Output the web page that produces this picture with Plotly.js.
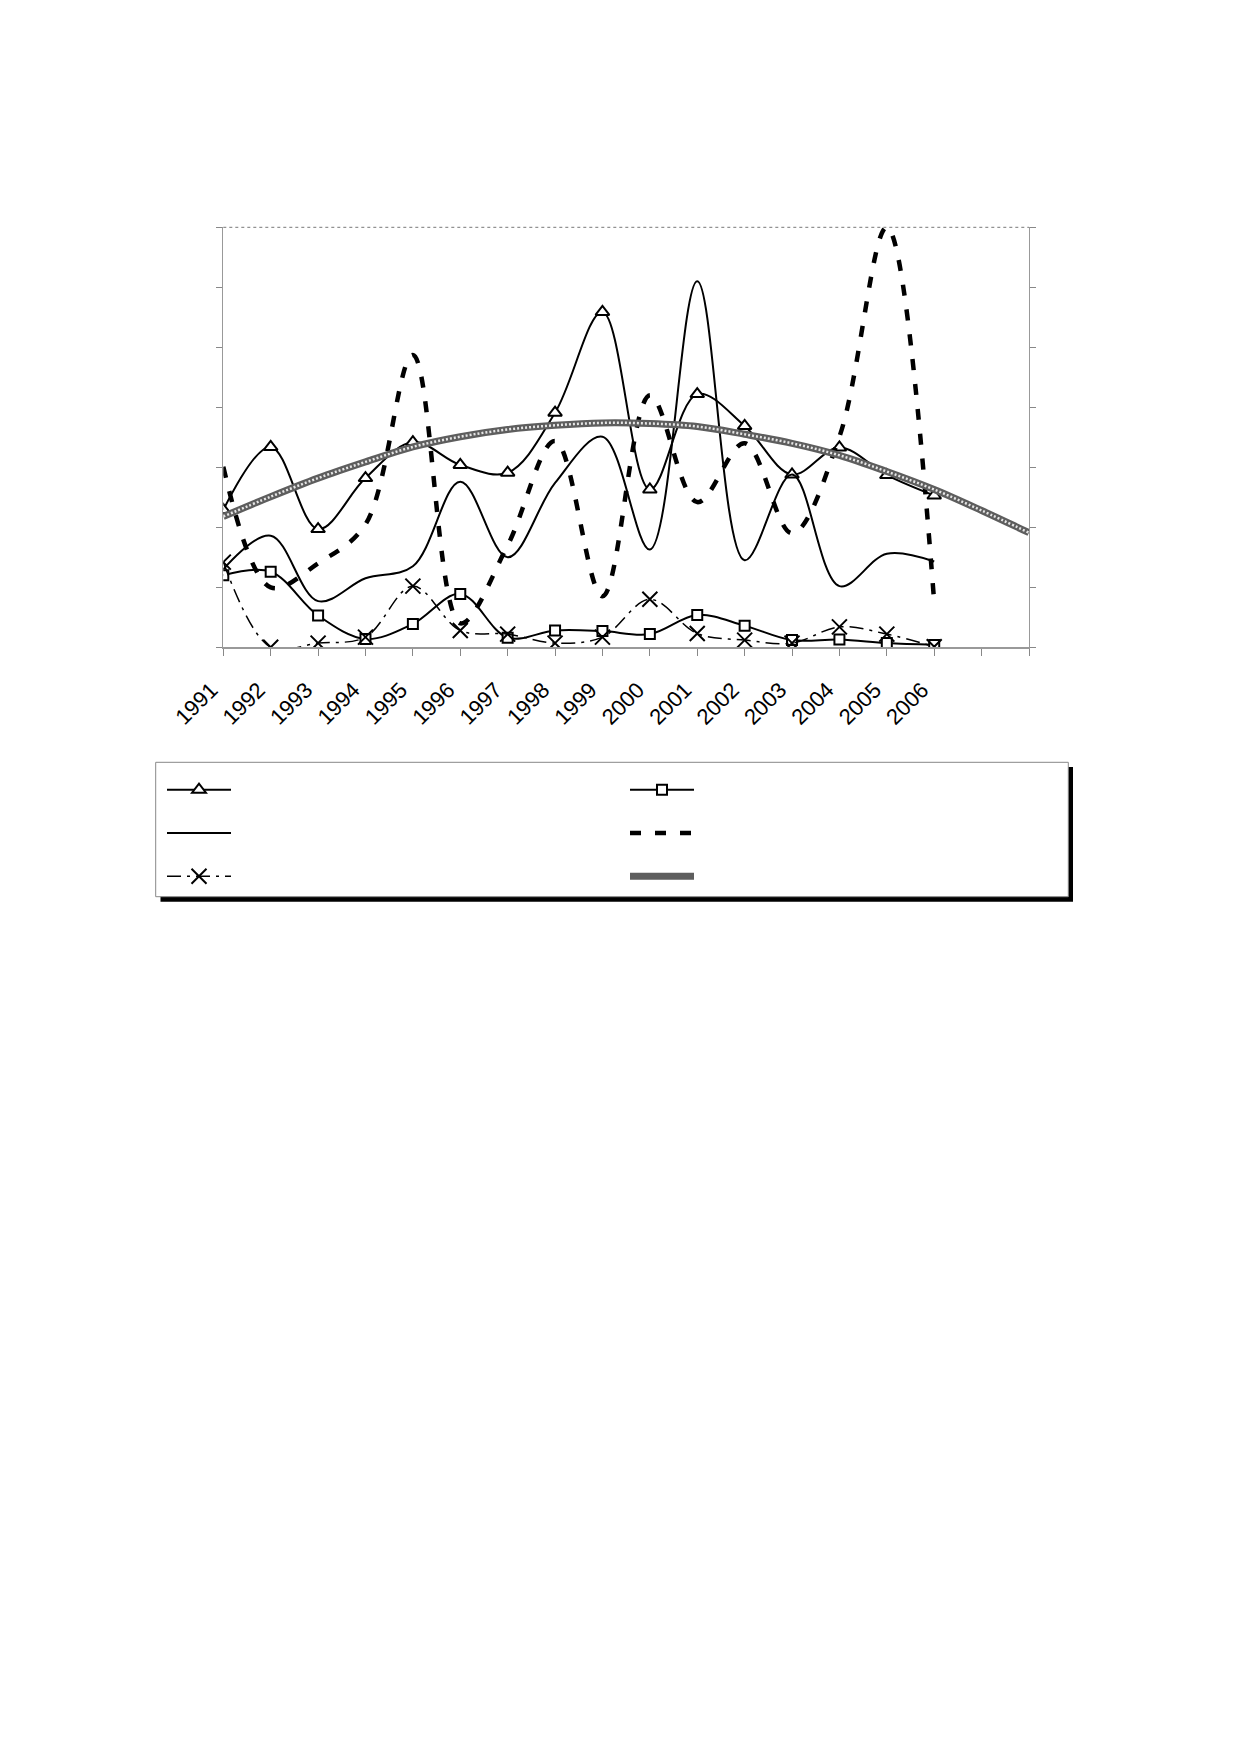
<!DOCTYPE html>
<html>
<head>
<meta charset="utf-8">
<script src="https://cdn.plot.ly/plotly-3.0.1.min.js"></script>
<style>html,body{margin:0;padding:0;background:#fff;}</style>
</head>
<body>
<div id="chart" style="width:1239px;height:1754px;"></div>
<script>
// ---- data ----
const categories = ['1991','1992','1993','1994','1995','1996','1997','1998','1999','2000','2001','2002','2003','2004','2005','2006',' ','  '];
const years = categories.slice(0, 16);

const seriesTriangle = [2.29,3.34,1.97,2.82,3.42,3.04,2.91,3.91,5.59,2.63,4.22,3.69,2.88,3.33,2.87,2.53];
const seriesSquare   = [1.20,1.26,0.53,0.14,0.39,0.89,0.16,0.28,0.27,0.22,0.54,0.36,0.12,0.13,0.07,0.04];
const seriesSolid    = [1.30,1.86,0.77,1.15,1.35,2.76,1.50,2.74,3.51,1.63,6.10,1.45,2.88,1.02,1.56,1.43];
const seriesDashed   = [3.01,1.00,1.40,2.05,4.87,0.40,1.70,3.44,0.85,4.20,2.42,3.40,1.90,3.51,7.00,0.75];
const seriesCross    = [1.42,0.00,0.07,0.17,1.02,0.28,0.22,0.07,0.17,0.80,0.23,0.12,0.07,0.34,0.22,0.01];
const seriesTrend    = [2.18,2.51,2.82,3.09,3.34,3.51,3.63,3.70,3.74,3.73,3.68,3.55,3.40,3.20,2.93,2.63,2.28,1.91];

// ---- layout helpers (pixel positions of the frame) ----
const W = 1239, H = 1754;
const fx = v => v / W;
const fy = v => 1 - v / H;
const plotL = 223.3, plotR = 1029, plotT = 227.3, plotB = 647.3;

const black = '#000000';
const traces = [
  { x: years, y: seriesTriangle, type: 'scatter', mode: 'lines+markers', name: ' ',
    line: { color: black, width: 2, shape: 'spline' },
    marker: { symbol: 'triangle-up', size: 12, color: '#ffffff', line: { color: black, width: 2 } } },
  { x: years, y: seriesSquare, type: 'scatter', mode: 'lines+markers', name: ' ',
    line: { color: black, width: 2, shape: 'spline' },
    marker: { symbol: 'square', size: 10, color: '#ffffff', line: { color: black, width: 2 } } },
  { x: years, y: seriesSolid, type: 'scatter', mode: 'lines', name: ' ',
    line: { color: black, width: 2, shape: 'spline' } },
  { x: years, y: seriesDashed, type: 'scatter', mode: 'lines', name: ' ',
    line: { color: black, width: 4.5, shape: 'spline', dash: '11px,14px' } },
  { x: years, y: seriesCross, type: 'scatter', mode: 'lines+markers', name: ' ',
    line: { color: black, width: 1.5, shape: 'spline', dash: '14px,6px,3px,6px' },
    marker: { symbol: 'x-thin-open', size: 15, color: black, line: { color: black, width: 2 } } },
  { x: categories, y: seriesTrend, type: 'scatter', mode: 'lines', name: ' ',
    line: { color: '#5e5e5e', width: 7, shape: 'spline' } },
  { x: categories, y: seriesTrend, type: 'scatter', mode: 'lines', name: ' ', showlegend: false,
    hoverinfo: 'skip',
    line: { color: '#e6e6e6', width: 2.5, shape: 'spline', dash: '2px,2px' } }
];

const layout = {
  width: W, height: H,
  paper_bgcolor: '#ffffff', plot_bgcolor: '#ffffff',
  margin: { l: 0, r: 0, t: 0, b: 0, pad: 0 },
  font: { family: 'Liberation Sans, Arial, sans-serif', color: black },
  showlegend: true,
  xaxis: {
    domain: [fx(plotL), fx(plotR)],
    type: 'category', categoryorder: 'array', categoryarray: categories,
    range: [0, 17],
    tickangle: -45,
    tickfont: { size: 22, color: black, family: 'Liberation Sans, Arial, sans-serif' },
    ticks: 'outside', ticklen: 7, tickcolor: '#888888', tickwidth: 1,
    ticklabelshift: -12, ticklabelstandoff: 12,
    showline: true, linecolor: '#999999', linewidth: 2,
    showgrid: false, zeroline: false, fixedrange: true
  },
  yaxis: {
    domain: [fy(plotB), fy(plotT)],
    range: [0, 7], dtick: 1, tick0: 0,
    showticklabels: false,
    ticks: 'outside', ticklen: 6, tickcolor: '#888888', tickwidth: 1,
    showline: true, linecolor: '#999999', linewidth: 1, mirror: 'ticks',
    showgrid: false, zeroline: false, fixedrange: true
  },
  legend: {
    orientation: 'h',
    x: fx(162), y: fy(763), xanchor: 'left', yanchor: 'top',
    bgcolor: 'rgba(0,0,0,0)', borderwidth: 0,
    entrywidth: 384, entrywidthmode: 'pixels',
    itemwidth: 64,
    traceorder: 'normal',
    font: { size: 31, color: black }
  },
  shapes: [
    { type: 'line', xref: 'paper', yref: 'paper', x0: fx(plotL), x1: fx(plotR), y0: fy(plotT), y1: fy(plotT),
      line: { color: '#777777', width: 1, dash: 'dot' } },
    { type: 'rect', xref: 'paper', yref: 'paper', x0: fx(160.5), x1: fx(1073), y0: fy(767), y1: fy(901.7),
      fillcolor: black, line: { width: 0 }, layer: 'above' },
    { type: 'rect', xref: 'paper', yref: 'paper', x0: fx(155.7), x1: fx(1068.3), y0: fy(762.3), y1: fy(896.7),
      fillcolor: '#ffffff', line: { color: '#888888', width: 1 }, layer: 'above' }
  ]
};

Plotly.newPlot('chart', traces, layout, { displayModeBar: false, staticPlot: true });
</script>
</body>
</html>
